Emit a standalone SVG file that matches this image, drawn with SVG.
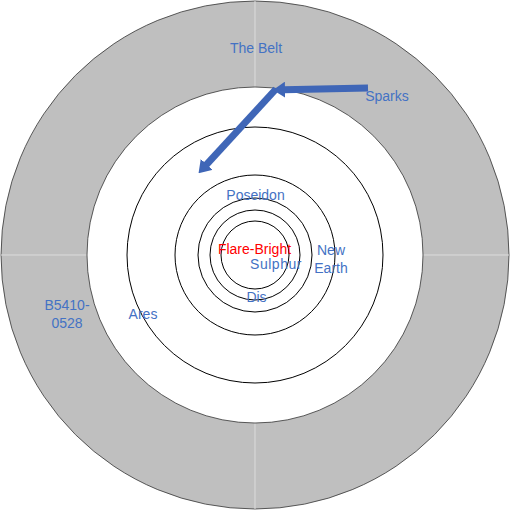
<svg xmlns="http://www.w3.org/2000/svg" width="511" height="511" viewBox="0 0 511 511">
<style>
.orbit{fill:none;stroke:#000;stroke-width:1}
.div{stroke:#dcdcdc;stroke-width:1}
.lbl{font-family:"Liberation Sans",Arial,sans-serif;font-size:14px;fill:#4472C4;text-anchor:middle}
.red{fill:#FF0000}
.arrow{stroke:#3F66B7;stroke-width:7;fill:none;marker-end:url(#head)}
</style>
<defs>
<marker id="head" markerUnits="userSpaceOnUse" viewBox="0 0 12 16" markerWidth="12" markerHeight="16" refX="1" refY="8" orient="auto">
<path d="M0,0 L12,8 L0,16 z" fill="#3F66B7"/>
</marker>
</defs>
<rect width="511" height="511" fill="#fff"/>
<g id="belt">
<circle cx="255" cy="255" r="254" fill="#BFBFBF" stroke="#333" stroke-width="0.8"/>
<line class="div" x1="255" y1="1" x2="255" y2="87"/>
<line class="div" x1="255" y1="423" x2="255" y2="509"/>
<line class="div" x1="1" y1="255" x2="87" y2="255"/>
<line class="div" x1="423" y1="255" x2="509" y2="255"/>
<circle cx="255" cy="255" r="168" fill="#fff" stroke="#333" stroke-width="0.8"/>
</g>
<g id="orbit-ares"><circle class="orbit" cx="255" cy="255" r="128"/></g>
<g id="orbit-newearth"><circle class="orbit" cx="255" cy="255" r="80"/></g>
<g id="orbit-poseidon"><circle class="orbit" cx="255" cy="255" r="57"/></g>
<g id="orbit-dis"><circle class="orbit" cx="255" cy="255" r="45"/></g>
<g id="orbit-sulphur"><circle class="orbit" cx="255" cy="255" r="34"/></g>
<g id="connectors">
<line class="arrow" x1="368" y1="88" x2="284" y2="89.7"/>
<line class="arrow" x1="276" y1="89" x2="206" y2="165.1"/>
</g>
<g id="labels">
<text class="lbl" x="256" y="53">The Belt</text>
<text class="lbl" x="387" y="101">Sparks</text>
<text class="lbl" x="255.5" y="200">Poseidon</text>
<text class="lbl red" x="254.5" y="254">Flare-Bright</text>
<text class="lbl" x="276" y="269" letter-spacing="0.5">Sulphur</text>
<text class="lbl" x="331" y="255">New</text>
<text class="lbl" x="331" y="273">Earth</text>
<text class="lbl" x="256.5" y="302">Dis</text>
<text class="lbl" x="143" y="319">Ares</text>
<text class="lbl" x="67" y="310">B5410-</text>
<text class="lbl" x="67" y="328">0528</text>
</g>
</svg>
